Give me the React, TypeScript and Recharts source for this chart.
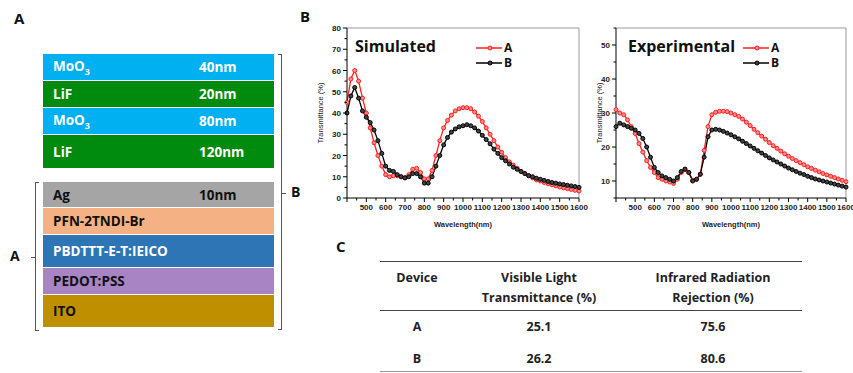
import React from 'react';
import { LineChart, Line, XAxis, YAxis, Legend, ReferenceLine } from 'recharts';

const wavelengths = [
  400, 420, 440, 460, 480, 500, 520, 540, 560, 580, 600, 620, 640, 660, 680, 700, 720, 740, 760, 780,
  800, 820, 840, 860, 880, 900, 920, 940, 960, 980, 1000, 1020, 1040, 1060, 1080, 1100, 1120, 1140, 1160, 1180,
  1200, 1220, 1240, 1260, 1280, 1300, 1320, 1340, 1360, 1380, 1400, 1420, 1440, 1460, 1480, 1500, 1520, 1540, 1560, 1580,
  1600,
];

const simulatedA = [
  45, 56, 60, 55, 47, 40, 33, 26, 20, 15, 11, 10, 10.5, 10.5, 10, 9.5, 11, 13.5, 14, 12,
  9, 9, 13, 20, 27, 33, 36.5, 39, 41, 42, 42.5, 42.5, 42, 40.5, 38.5, 36, 33, 30, 27, 24,
  21.5, 19, 17, 15.5, 14, 12.5, 11.5, 10.5, 9.5, 8.5, 8, 7.3, 6.7, 6.2, 5.7, 5.2, 4.8, 4.4, 4, 3.6,
  3.3,
];

const simulatedB = [
  40, 48, 52, 47, 41, 38, 35.5, 32, 27, 21, 15, 13, 12.5, 11, 10, 9.5, 10, 11.5, 11.5, 10,
  7, 7, 10, 15, 20, 25, 28.5, 31, 32.5, 33.5, 34, 34.5, 34, 33, 31.5, 29.5, 27.5, 25.5, 23, 21,
  19, 17.5, 16, 14.5, 13.5, 12.5, 11.5, 10.5, 10, 9.3, 8.8, 8.3, 7.8, 7.3, 7, 6.6, 6.3, 6, 5.7, 5.4,
  5,
];

const experimentalA = [
  31, 30, 29.5, 28, 26, 24, 21, 18.5, 16, 14, 12.5, 11, 10.5, 10, 9.7, 9.3, 10.5, 12.5, 13.3, 12.5,
  10.2, 10.5, 12, 19, 26, 29.5, 30.2, 30.5, 30.5, 30.4, 30, 29.5, 29, 28.2, 27.3, 26.3, 25.2, 24.2, 23.2, 22.3,
  21.3, 20.4, 19.6, 18.8, 18, 17.3, 16.6, 16, 15.4, 14.8, 14.2, 13.7, 13.2, 12.7, 12.2, 11.8, 11.4, 11, 10.6, 10.2,
  9.8,
];

const experimentalB = [
  26, 27, 26.5, 26, 25.5, 25, 24, 22.5, 20, 17, 14, 12.5, 11.5, 11, 10.5, 10, 11, 12.8, 13.5, 12.5,
  10, 10.5, 12, 17, 23, 25, 25.2, 25, 24.6, 24.1, 23.6, 23, 22.4, 21.7, 21, 20.3, 19.6, 18.9, 18.2, 17.5,
  16.8, 16.2, 15.6, 15, 14.4, 13.8, 13.3, 12.8, 12.3, 11.9, 11.4, 11, 10.6, 10.3, 10, 9.7, 9.4, 9.1, 8.8, 8.5,
  8.2,
];

const xTicks = [400, 450, 500, 550, 600, 650, 700, 750, 800, 850, 900, 950, 1000, 1050, 1100, 1150, 1200, 1250, 1300, 1350, 1400, 1450, 1500, 1550, 1600];
const simYTicks = [0, 5, 10, 15, 20, 25, 30, 35, 40, 45, 50, 55, 60, 65, 70, 75, 80];
const expYTicks = [5, 10, 15, 20, 25, 30, 35, 40, 45, 50, 55];

const layersTop = [
  { name: 'MoO', sub: '3', thick: '40nm', color: '#00b0f0', text: '#fff', h: 26 },
  { name: 'LiF', sub: '', thick: '20nm', color: '#008a0e', text: '#fff', h: 26 },
  { name: 'MoO', sub: '3', thick: '80nm', color: '#00b0f0', text: '#fff', h: 26 },
  { name: 'LiF', sub: '', thick: '120nm', color: '#008a0e', text: '#fff', h: 33 },
];
const layersBottom = [
  { name: 'Ag', sub: '', thick: '10nm', color: '#a5a5a5', text: '#111', h: 25 },
  { name: 'PFN-2TNDI-Br', sub: '', thick: '', color: '#f4b183', text: '#111', h: 26 },
  { name: 'PBDTTT-E-T:IEICO', sub: '', thick: '', color: '#2e75b6', text: '#fff', h: 32 },
  { name: 'PEDOT:PSS', sub: '', thick: '', color: '#a884c4', text: '#111', h: 26 },
  { name: 'ITO', sub: '', thick: '', color: '#bf8f00', text: '#111', h: 32 },
];

const tableHead = ['Device', 'Visible Light\nTransmittance (%)', 'Infrared Radiation\nRejection (%)'];
const tableRows = [
  ['A', '25.1', '75.6'],
  ['B', '26.2', '80.6'],
];

const sans = '"Open Sans", "Noto Sans", sans-serif';
const tickFont = '"Liberation Sans", Arial, sans-serif';

const XTick = (props: any) => {
  const { x, y, payload } = props;
  const v = payload.value;
  const major = v % 100 === 0;
  return (
    <g>
      <line x1={x} x2={x} y1={y} y2={y + (major ? 4 : 2.5)} stroke="#000" strokeWidth={1} />
      {major && v !== 400 && (
        <text x={x} y={y + 12} textAnchor="middle" fontSize={8} fontWeight="bold" fill="#222" fontFamily={tickFont}>
          {v}
        </text>
      )}
    </g>
  );
};

const YTick = (props: any) => {
  const { x, y, payload } = props;
  const v = payload.value;
  const major = v % 10 === 0;
  return (
    <g>
      <line x1={x} x2={x - (major ? 4 : 2.5)} y1={y} y2={y} stroke="#000" strokeWidth={1} />
      {major && (
        <text x={x - 6} y={y} dy={3} textAnchor="end" fontSize={8} fontWeight="bold" fill="#222" fontFamily={tickFont}>
          {v}
        </text>
      )}
    </g>
  );
};

const renderLegend = (props: any) => (
  <div>
    {(props.payload || []).map((p: any) => (
      <div key={p.value} style={{ display: 'flex', alignItems: 'center', height: 15 }}>
        <svg width={26} height={8}>
          <line x1={0} x2={26} y1={4} y2={4} stroke={p.color} strokeWidth={1.5} />
          <circle cx={14} cy={4} r={2} fill={p.color === '#000' ? '#444' : '#ff8a8a'} stroke={p.color} />
        </svg>
        <span style={{ fontFamily: sans, fontWeight: 'bold', fontSize: 12, lineHeight: '14px', marginLeft: 2, color: '#111' }}>{p.value}</span>
      </div>
    ))}
  </div>
);

interface SpectrumProps {
  a: number[];
  b: number[];
  domain: [number, number];
  ticks: number[];
  yWidth: number;
  width: number;
  right: number;
  legendLeft: number;
}

const Spectrum: React.FC<SpectrumProps> = ({ a, b, domain, ticks, yWidth, width, right, legendLeft }) => {
  const data = wavelengths.map((w, i) => ({ w, A: a[i], B: b[i] }));
  return (
    <LineChart width={width} height={222} data={data} margin={{ top: 18, right, left: 0, bottom: 0 }}>
      <XAxis
        dataKey="w"
        type="number"
        domain={[400, 1600]}
        ticks={xTicks}
        interval={0}
        tick={<XTick />}
        tickLine={false}
        tickSize={0}
        tickMargin={0}
        axisLine={{ stroke: '#000', strokeWidth: 1 }}
        height={34}
        label={{ value: 'Wavelength(nm)', position: 'insideBottom', offset: 5, fontSize: 7.5, fontWeight: 'bold', fill: '#222', fontFamily: tickFont }}
      />
      <YAxis
        type="number"
        domain={domain}
        ticks={ticks}
        interval={0}
        allowDataOverflow
        tick={<YTick />}
        tickLine={false}
        tickSize={0}
        tickMargin={0}
        width={yWidth}
        axisLine={{ stroke: '#000', strokeWidth: 1 }}
        label={{ value: 'Transmittance (%)', angle: -90, position: 'center', dx: -3, fontSize: 7.5, fill: '#222', fontFamily: tickFont }}
      />
      <ReferenceLine y={domain[1]} stroke="#999" strokeWidth={1} />
      <ReferenceLine x={1600} stroke="#999" strokeWidth={1} />
      <Legend
        content={renderLegend}
        layout="horizontal"
        verticalAlign="middle"
        align="center"
        wrapperStyle={{ position: 'absolute', top: 30, left: legendLeft, width: 50 }}
      />
      <Line
        dataKey="A"
        name="A"
        stroke="#ff2020"
        strokeWidth={1.3}
        dot={{ r: 2, fill: '#ff8a8a', stroke: '#ff2020', strokeWidth: 1 }}
        isAnimationActive={false}
      />
      <Line
        dataKey="B"
        name="B"
        stroke="#000"
        strokeWidth={1.3}
        dot={{ r: 2, fill: '#444', stroke: '#000', strokeWidth: 1 }}
        isAnimationActive={false}
      />
    </LineChart>
  );
};

const Layer = ({ l }: { l: any }) => (
  <div
    style={{
      height: l.h,
      background: l.color,
      color: l.text,
      display: 'flex',
      alignItems: 'center',
      marginBottom: 1,
      fontFamily: sans,
      fontWeight: 'bold',
      fontSize: 13.5,
      position: 'relative',
    }}
  >
    <span style={{ marginLeft: 10 }}>
      {l.name}
      {l.sub && <sub style={{ fontSize: 9 }}>{l.sub}</sub>}
    </span>
    {l.thick && <span style={{ position: 'absolute', left: 156 }}>{l.thick}</span>}
  </div>
);

const panelLabel = (t: string, left: number, top: number) => (
  <div style={{ position: 'absolute', left, top, fontFamily: sans, fontWeight: 'bold', fontSize: 15, color: '#111' }}>{t}</div>
);

export default function App() {
  return (
    <div style={{ position: 'absolute', left: 0, top: 0, width: 853, height: 373, background: '#fff', overflow: 'hidden' }}>
      {panelLabel('A', 14, 8)}
      {panelLabel('B', 300, 6)}
      {panelLabel('C', 336, 236)}

      {/* panel A: layer stack */}
      <div style={{ position: 'absolute', left: 43, top: 54, width: 231 }}>
        {layersTop.map((l, i) => <Layer key={i} l={l} />)}
      </div>
      <div style={{ position: 'absolute', left: 43, top: 182, width: 231 }}>
        {layersBottom.map((l, i) => <Layer key={i} l={l} />)}
      </div>
      {/* right bracket B */}
      <div style={{ position: 'absolute', left: 278, top: 54, width: 3, height: 274, borderTop: '1px solid #555', borderRight: '1px solid #555', borderBottom: '1px solid #555' }} />
      <div style={{ position: 'absolute', left: 282, top: 193, width: 4, height: 0, borderTop: '1px solid #555' }} />
      <div style={{ position: 'absolute', left: 291, top: 182, fontFamily: sans, fontWeight: 'bold', fontSize: 14, color: '#111' }}>B</div>
      {/* left bracket A */}
      <div style={{ position: 'absolute', left: 35, top: 182, width: 3, height: 147, borderTop: '1px solid #555', borderLeft: '1px solid #555', borderBottom: '1px solid #555' }} />
      <div style={{ position: 'absolute', left: 31, top: 257, width: 4, height: 0, borderTop: '1px solid #555' }} />
      <div style={{ position: 'absolute', left: 10, top: 246, fontFamily: sans, fontWeight: 'bold', fontSize: 14, color: '#111' }}>A</div>

      {/* panel B: spectra */}
      <div style={{ position: 'absolute', left: 300, top: 10 }}>
        <Spectrum a={simulatedA} b={simulatedB} domain={[0, 80]} ticks={simYTicks} yWidth={47} width={292} right={13} legendLeft={176} />
        <div style={{ position: 'absolute', left: 55, top: 25, fontFamily: sans, fontWeight: 'bold', fontSize: 16, color: '#111' }}>Simulated</div>
      </div>
      <div style={{ position: 'absolute', left: 588, top: 10 }}>
        <Spectrum a={experimentalA} b={experimentalB} domain={[5, 55]} ticks={expYTicks} yWidth={28} width={265} right={7} legendLeft={155} />
        <div style={{ position: 'absolute', left: 40, top: 25, fontFamily: sans, fontWeight: 'bold', fontSize: 16, color: '#111' }}>Experimental</div>
      </div>

      {/* panel C: table */}
      <div style={{ position: 'absolute', left: 380, top: 261, width: 422, borderTop: '1.5px solid #444' }} />
      <div style={{ position: 'absolute', left: 380, top: 310, width: 422, borderTop: '1.5px solid #444' }} />
      <div style={{ position: 'absolute', left: 380, top: 371, width: 422, borderTop: '1px solid #999' }} />
      {[417, 539, 713].map((cx, c) => (
        <div
          key={c}
          style={{ position: 'absolute', left: cx - 80, top: 268, width: 160, textAlign: 'center', fontFamily: sans, fontWeight: 'bold', fontSize: 12.5, lineHeight: '20px', color: '#222', whiteSpace: 'pre' }}
        >
          {tableHead[c]}
        </div>
      ))}
      {tableRows.map((row, r) =>
        row.map((cell, c) => (
          <div
            key={`${r}-${c}`}
            style={{ position: 'absolute', left: [417, 539, 713][c] - 60, top: 317 + r * 32, width: 120, textAlign: 'center', fontFamily: sans, fontWeight: 'bold', fontSize: 12.5, lineHeight: '20px', color: '#222' }}
          >
            {cell}
          </div>
        ))
      )}
    </div>
  );
}
